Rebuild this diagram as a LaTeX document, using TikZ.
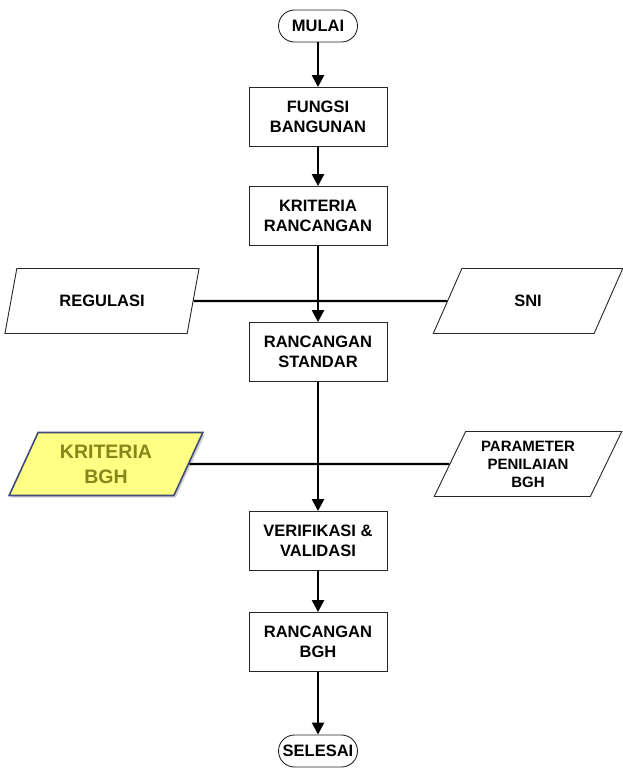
\documentclass[tikz,border=0pt]{standalone}
\usepackage{fontspec}
\setmainfont{Liberation Sans}
\usetikzlibrary{shapes.geometric,arrows.meta,shadows}
\definecolor{bghfill}{HTML}{FFFF84}
\definecolor{bghtext}{HTML}{86861A}
\definecolor{bghline}{HTML}{3F4C7A}
\begin{document}
\begin{tikzpicture}[x=1pt,y=-1pt,
  base/.style={draw=black!85,line width=0.9pt,align=center,font=\bfseries\fontsize{16.5}{20}\selectfont,inner sep=0pt},
  terminal/.style={base,rounded corners=16pt,minimum width=79pt,minimum height=32pt},
  process/.style={base,minimum width=138pt,minimum height=59pt},
  datain/.style={base,trapezium,trapezium left angle=63,trapezium right angle=117,
    trapezium stretches=true,minimum width=196pt,minimum height=65pt},
  flow/.style={line width=2.4pt,-{Triangle[length=12pt,width=12pt]}},
  joint/.style={line width=2.4pt}
]
\useasboundingbox (0,0) rectangle (622,772);

% main column
\node[terminal] (mulai) at (318,26) {MULAI};
\node[process] (fungsi) at (318,117) {FUNGSI\\BANGUNAN};
\node[process] (kriteria) at (318,216) {KRITERIA\\RANCANGAN};
\node[process] (standar) at (318,352) {RANCANGAN\\STANDAR};
\node[process] (verif) at (318,541) {VERIFIKASI \&\\VALIDASI};
\node[process] (bgh) at (318,642) {RANCANGAN\\BGH};
\node[terminal] (selesai) at (318,751) {SELESAI};

% side inputs
\node[datain] (regulasi) at (102,301) {REGULASI};
\node[datain,minimum width=190pt] (sni) at (528,301) {SNI};
\node[datain,minimum width=194pt,minimum height=63pt,fill=bghfill,draw=bghline,line width=1.6pt,
  drop shadow={shadow xshift=2pt,shadow yshift=-2pt,fill=black!35},
  text=bghtext,font=\bfseries\fontsize{19.5}{25}\selectfont] (kbgh) at (106,464) {KRITERIA\\BGH};
\node[datain,minimum width=188pt,font=\bfseries\fontsize{15}{18}\selectfont] (param) at (528,464) {PARAMETER\\PENILAIAN\\BGH};

% connectors
\draw[flow] (mulai) -- (fungsi);
\draw[flow] (fungsi) -- (kriteria);
\draw[flow] (kriteria) -- (standar);
\draw[flow] (standar) -- (verif);
\draw[flow] (verif) -- (bgh);
\draw[flow] (bgh) -- (selesai);
\draw[joint] (regulasi.east) -- (sni.west);
\draw[joint] (kbgh.east) -- (param.west);
\end{tikzpicture}
\end{document}
